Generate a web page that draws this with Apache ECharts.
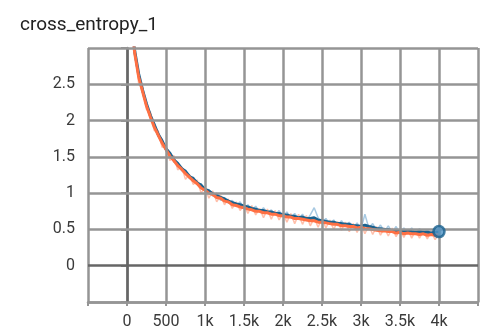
<!DOCTYPE html>
<html>
<head>
<meta charset="utf-8">
<script src="https://cdn.jsdelivr.net/npm/echarts@6/dist/echarts.min.js"></script>
<style>
  html, body { margin: 0; padding: 0; background: #fff; }
  #chart { width: 481px; height: 333px; }
</style>
</head>
<body>
<div id="chart"></div>
<script>
// 训练步数
var steps = [0, 50, 100, 150, 200, 250, 300, 350, 400, 450,
    500, 550, 600, 650, 700, 750, 800, 850, 900, 950,
    1000, 1050, 1100, 1150, 1200, 1250, 1300, 1350, 1400, 1450,
    1500, 1550, 1600, 1650, 1700, 1750, 1800, 1850, 1900, 1950,
    2000, 2050, 2100, 2150, 2200, 2250, 2300, 2350, 2400, 2450,
    2500, 2550, 2600, 2650, 2700, 2750, 2800, 2850, 2900, 2950,
    3000, 3050, 3100, 3150, 3200, 3250, 3300, 3350, 3400, 3450,
    3500, 3550, 3600, 3650, 3700, 3750, 3800, 3850, 3900, 3950, 4000];

// 刻度
var xTicks = [-500, 0, 500, 1000, 1500, 2000, 2500, 3000, 3500, 4000, 4500];
var yTicks = [-0.5, 0, 0.5, 1, 1.5, 2, 2.5, 3];

// 原始值（浅色）
var orangeRaw = [4.40, 3.25, 3.00, 2.50, 2.46, 2.15, 2.12, 1.86, 1.86, 1.63,
    1.66, 1.45, 1.52, 1.32, 1.36, 1.19, 1.26, 1.12, 1.18, 1.00,
    1.08, 0.93, 1.03, 0.88, 0.97, 0.84, 0.92, 0.79, 0.88, 0.76,
    0.84, 0.72, 0.83, 0.70, 0.79, 0.66, 0.78, 0.64, 0.76, 0.63,
    0.73, 0.60, 0.72, 0.58, 0.71, 0.57, 0.69, 0.55, 0.66, 0.53,
    0.65, 0.52, 0.63, 0.50, 0.61, 0.49, 0.60, 0.47, 0.58, 0.46,
    0.58, 0.44, 0.56, 0.43, 0.54, 0.42, 0.52, 0.41, 0.52, 0.40,
    0.50, 0.39, 0.50, 0.38, 0.49, 0.38, 0.48, 0.37, 0.47, 0.36, 0.44];
var blueRaw = [4.60, 3.40, 2.90, 2.66, 2.38, 2.25, 2.02, 1.97, 1.78, 1.74,
    1.58, 1.56, 1.43, 1.42, 1.31, 1.32, 1.20, 1.22, 1.12, 1.13,
    1.02, 1.05, 0.96, 1.00, 0.90, 0.94, 0.86, 0.90, 0.82, 0.88,
    0.79, 0.84, 0.76, 0.82, 0.74, 0.80, 0.72, 0.77, 0.70, 0.76,
    0.68, 0.74, 0.66, 0.72, 0.64, 0.71, 0.62, 0.70, 0.80, 0.66,
    0.59, 0.65, 0.57, 0.63, 0.55, 0.62, 0.54, 0.60, 0.52, 0.59,
    0.50, 0.71, 0.52, 0.58, 0.49, 0.56, 0.47, 0.55, 0.46, 0.54,
    0.45, 0.52, 0.45, 0.52, 0.44, 0.51, 0.44, 0.50, 0.43, 0.49, 0.47];

// 平滑值
var orangeSmooth = [4.30, 3.38, 2.92, 2.60, 2.40, 2.20, 2.05, 1.91, 1.80, 1.69,
    1.60, 1.51, 1.45, 1.38, 1.33, 1.27, 1.22, 1.17, 1.13, 1.07,
    1.04, 1.00, 0.98, 0.94, 0.93, 0.89, 0.88, 0.84, 0.83, 0.81,
    0.80, 0.78, 0.77, 0.75, 0.75, 0.73, 0.73, 0.71, 0.71, 0.69,
    0.69, 0.67, 0.67, 0.65, 0.65, 0.64, 0.63, 0.62, 0.62, 0.60,
    0.60, 0.59, 0.58, 0.57, 0.57, 0.55, 0.55, 0.54, 0.54, 0.52,
    0.53, 0.51, 0.51, 0.50, 0.49, 0.48, 0.48, 0.47, 0.47, 0.45,
    0.46, 0.44, 0.45, 0.44, 0.44, 0.43, 0.44, 0.42, 0.43, 0.42, 0.43];
var blueSmooth = [4.45, 3.45, 2.95, 2.64, 2.42, 2.23, 2.07, 1.94, 1.81, 1.72,
    1.61, 1.55, 1.46, 1.41, 1.34, 1.30, 1.23, 1.20, 1.14, 1.11,
    1.05, 1.03, 0.99, 0.97, 0.94, 0.92, 0.89, 0.87, 0.85, 0.84,
    0.82, 0.81, 0.79, 0.78, 0.76, 0.76, 0.74, 0.74, 0.72, 0.72,
    0.70, 0.70, 0.68, 0.68, 0.66, 0.67, 0.65, 0.65, 0.66, 0.63,
    0.62, 0.61, 0.60, 0.60, 0.58, 0.58, 0.57, 0.57, 0.55, 0.55,
    0.54, 0.56, 0.54, 0.53, 0.51, 0.51, 0.50, 0.50, 0.48, 0.49,
    0.47, 0.48, 0.47, 0.47, 0.46, 0.47, 0.46, 0.46, 0.45, 0.46, 0.47];

function pairs(vals) {
    return steps.map(function (s, i) { return [s, vals[i]]; });
}

var chart = echarts.init(document.getElementById('chart'));

var gridColor = '#959595';
var zeroColor = '#666666';
var textColor = '#3a3a3a';

/**
 * 网格线（零线加深）
 */
var gridLines = [];
xTicks.forEach(function (v) {
    gridLines.push({ xAxis: v, lineStyle: { color: v === 0 ? zeroColor : gridColor, width: 2.5, type: 'solid', opacity: 1 } });
});
yTicks.forEach(function (v) {
    gridLines.push({ yAxis: v, lineStyle: { color: v === 0 ? zeroColor : gridColor, width: 2.5, type: 'solid', opacity: 1 } });
});

var option = {
    animation: false,
    title: {
        text: 'cross_entropy_1',
        left: 15,
        top: 11,
        textStyle: {
            fontFamily: 'Roboto',
            fontSize: 19,
            fontWeight: 'normal',
            color: '#222'
        }
    },
    grid: {
        left: 88,
        right: -5,
        top: 48,
        bottom: 31
    },
    xAxis: {
        type: 'value',
        min: xTicks[0],
        max: xTicks[xTicks.length - 1],
        interval: 500,
        axisLine: { show: true, onZero: false, lineStyle: { color: gridColor, width: 2.5 } },
        axisTick: { show: true, length: 4, lineStyle: { color: gridColor, width: 2 } },
        axisLabel: {
            margin: 12,
            fontFamily: 'Roboto',
            fontSize: 16,
            color: textColor,
            formatter: function (v) {
                if (v < 0 || v > 4000) return '';
                if (v === 0) return '0';
                if (v >= 1000) return (v / 1000) + 'k';
                return String(v);
            }
        },
        splitLine: { show: false }
    },
    yAxis: {
        type: 'value',
        min: yTicks[0],
        max: yTicks[yTicks.length - 1],
        interval: 0.5,
        axisLine: { show: true, lineStyle: { color: gridColor, width: 2.5 } },
        axisTick: { show: true, length: 6, lineStyle: { color: gridColor, width: 2 } },
        axisLabel: {
            margin: 13,
            fontFamily: 'Roboto',
            fontSize: 16,
            color: textColor,
            formatter: function (v) {
                if (v < 0 || v > 2.5) return '';
                return String(v);
            }
        },
        splitLine: { show: false }
    },
    series: [
        {
            name: 'grid',
            type: 'line',
            data: pairs(blueSmooth),
            symbol: 'none',
            silent: true,
            lineStyle: { width: 0, opacity: 0 },
            markLine: {
                silent: true,
                symbol: 'none',
                label: { show: false },
                emphasis: { disabled: true },
                data: gridLines
            },
            z: 1
        },
        {
            name: 'blue raw',
            type: 'line',
            data: pairs(blueRaw),
            symbol: 'none',
            clip: true,
            lineStyle: { color: '#4f93c6', width: 1.5, opacity: 0.5 },
            z: 2
        },
        {
            name: 'orange raw',
            type: 'line',
            data: pairs(orangeRaw),
            symbol: 'none',
            clip: true,
            lineStyle: { color: '#ff7043', width: 1.5, opacity: 0.45 },
            z: 2
        },
        {
            name: 'blue',
            type: 'line',
            data: pairs(blueSmooth),
            symbol: 'none',
            clip: true,
            lineStyle: { color: '#1a628f', width: 3 },
            z: 3
        },
        {
            name: 'orange',
            type: 'line',
            data: pairs(orangeSmooth),
            symbol: 'none',
            clip: true,
            lineStyle: { color: '#ff7043', width: 3 },
            z: 4
        },
        {
            name: 'blue end',
            type: 'scatter',
            data: [pairs(blueSmooth)[steps.length - 1]],
            symbol: 'circle',
            symbolSize: 11,
            itemStyle: { color: '#4f93c6', borderColor: '#1a628f', borderWidth: 2.5 },
            z: 5
        }
    ]
};

chart.setOption(option);
</script>
</body>
</html>
